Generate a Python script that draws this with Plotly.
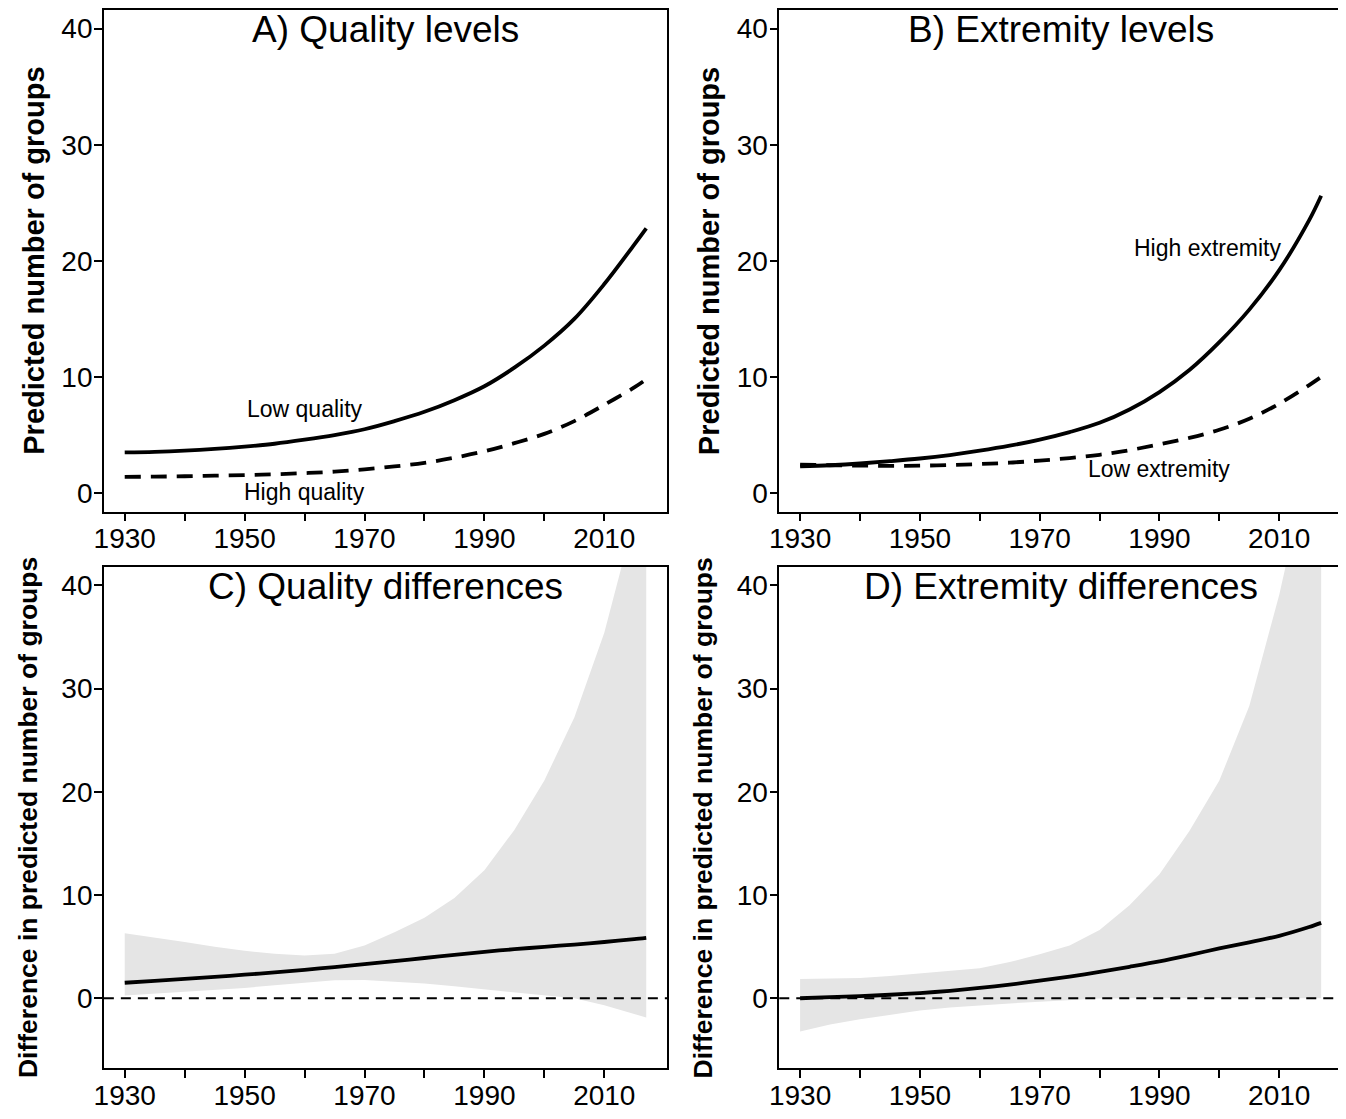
import plotly.graph_objects as go

# ---------------- data ----------------
years = [1930, 1935, 1940, 1945, 1950, 1955, 1960, 1965, 1970, 1975,
         1980, 1985, 1990, 1995, 2000, 2005, 2010, 2015, 2017]

# A) Quality levels
low_quality = [3.5, 3.55, 3.65, 3.8, 4.0, 4.25, 4.6, 5.0, 5.5, 6.2,
               7.0, 8.0, 9.2, 10.8, 12.7, 15.0, 18.0, 21.4, 22.8]
high_quality = [1.4, 1.42, 1.45, 1.5, 1.55, 1.62, 1.72, 1.85, 2.05, 2.3,
                2.6, 3.05, 3.6, 4.3, 5.1, 6.2, 7.6, 9.1, 9.8]

# B) Extremity levels
high_extremity = [2.3, 2.4, 2.55, 2.75, 2.98, 3.28, 3.65, 4.08, 4.6, 5.25,
                  6.05, 7.2, 8.7, 10.6, 13.0, 15.8, 19.2, 23.5, 25.6]
low_extremity = [2.45, 2.4, 2.37, 2.35, 2.36, 2.42, 2.5, 2.62, 2.8, 3.02,
                 3.3, 3.7, 4.2, 4.75, 5.45, 6.4, 7.7, 9.3, 10.0]

# C) Quality differences
qual_diff = [1.5, 1.68, 1.87, 2.07, 2.28, 2.5, 2.75, 3.02, 3.3, 3.6,
             3.9, 4.2, 4.5, 4.75, 4.98, 5.2, 5.45, 5.72, 5.85]
qual_upper = [6.3, 5.9, 5.44, 5.0, 4.6, 4.3, 4.15, 4.3, 5.1, 6.4,
              7.8, 9.7, 12.4, 16.3, 21.1, 27.2, 35.4, 46.5, 52.0]
qual_lower = [0.27, 0.45, 0.6, 0.8, 1.0, 1.25, 1.53, 1.75, 1.77, 1.62,
              1.43, 1.15, 0.85, 0.55, 0.27, 0.0, -0.68, -1.5, -1.87]

# D) Extremity differences
ext_diff = [0.0, 0.1, 0.2, 0.34, 0.5, 0.72, 1.0, 1.32, 1.7, 2.1,
            2.55, 3.05, 3.57, 4.18, 4.83, 5.42, 6.05, 6.9, 7.3]
ext_upper = [1.87, 1.92, 1.97, 2.15, 2.38, 2.6, 2.9, 3.5, 4.25, 5.1,
             6.6, 9.0, 12.0, 16.2, 21.1, 28.3, 39.1, 52.0, 58.0]
ext_lower = [-3.23, -2.55, -2.04, -1.6, -1.19, -0.9, -0.68, -0.5, -0.34, -0.17,
             -0.02, 0.0, 0.0, 0.0, 0.0, 0.0, 0.0, 0.0, 0.0]

x_tick_vals = [1930, 1940, 1950, 1960, 1970, 1980, 1990, 2000, 2010]
x_tick_text = ["1930", "", "1950", "", "1970", "", "1990", "", "2010"]
y_tick_vals = [0, 10, 20, 30, 40]

panel_titles = ["A) Quality levels", "B) Extremity levels",
                "C) Quality differences", "D) Extremity differences"]
y_titles = ["Predicted number of groups", "Predicted number of groups",
            "Difference in predicted number of groups",
            "Difference in predicted number of groups"]

# ---------------- layout geometry (reference pixels) ----------------
W, H = 1336, 1103
OFF = 8  # default body margin of the page


def px(xr):
    return (xr - OFF) / W


def py(yr):
    return 1 - (yr - OFF) / H


FONT = "Liberation Sans, Arial, sans-serif"
BLACK = "#000000"
GREY = "#e5e5e5"
LW = 3.8
DASH = "16px,10px"

x_dom_left = [px(94.5), px(662)]
x_dom_right = [px(775), min(1.0, px(1342))]
y_dom_top = [py(518), min(1.0, py(7.3))]
y_dom_bot = [py(1084), py(574)]

xr = [1926.52, 2020.48]
yr_top = [-1.6, 41.6]
yr_bot = [-6.8, 41.8]

fig = go.Figure()

# Panel A
fig.add_trace(go.Scatter(x=years, y=low_quality, mode="lines", xaxis="x", yaxis="y",
                         line=dict(color=BLACK, width=LW, shape="spline", smoothing=1.0)))
fig.add_trace(go.Scatter(x=years, y=high_quality, mode="lines", xaxis="x", yaxis="y",
                         line=dict(color=BLACK, width=LW, dash=DASH, shape="spline", smoothing=1.0)))
# Panel B
fig.add_trace(go.Scatter(x=years, y=high_extremity, mode="lines", xaxis="x2", yaxis="y2",
                         line=dict(color=BLACK, width=LW, shape="spline", smoothing=1.0)))
fig.add_trace(go.Scatter(x=years, y=low_extremity, mode="lines", xaxis="x2", yaxis="y2",
                         line=dict(color=BLACK, width=LW, dash=DASH, shape="spline", smoothing=1.0)))
# Panel C
fig.add_trace(go.Scatter(x=years, y=qual_lower, mode="lines", xaxis="x3", yaxis="y3",
                         line=dict(width=0, color=GREY), hoverinfo="skip"))
fig.add_trace(go.Scatter(x=years, y=qual_upper, mode="lines", xaxis="x3", yaxis="y3",
                         line=dict(width=0, color=GREY), fill="tonexty", fillcolor=GREY,
                         hoverinfo="skip"))
fig.add_trace(go.Scatter(x=years, y=qual_diff, mode="lines", xaxis="x3", yaxis="y3",
                         line=dict(color=BLACK, width=LW, shape="spline", smoothing=0.8)))
# Panel D
fig.add_trace(go.Scatter(x=years, y=ext_lower, mode="lines", xaxis="x4", yaxis="y4",
                         line=dict(width=0, color=GREY), hoverinfo="skip"))
fig.add_trace(go.Scatter(x=years, y=ext_upper, mode="lines", xaxis="x4", yaxis="y4",
                         line=dict(width=0, color=GREY), fill="tonexty", fillcolor=GREY,
                         hoverinfo="skip"))
fig.add_trace(go.Scatter(x=years, y=ext_diff, mode="lines", xaxis="x4", yaxis="y4",
                         line=dict(color=BLACK, width=LW, shape="spline", smoothing=0.8)))

axis_common = dict(showline=True, mirror=True, linecolor=BLACK, linewidth=1.5,
                   ticks="outside", ticklen=8, tickwidth=1.5, tickcolor=BLACK,
                   showgrid=False, zeroline=False,
                   tickfont=dict(family=FONT, size=28, color=BLACK))

xaxis_common = dict(axis_common, range=xr, tickmode="array",
                    tickvals=x_tick_vals, ticktext=x_tick_text,
                    ticklabelstandoff=-7)
yaxis_common = dict(axis_common, tickmode="array", tickvals=y_tick_vals,
                    ticklabelstandoff=-4)

fig.update_layout(
    width=W, height=H,
    margin=dict(l=0, r=0, t=0, b=0, pad=0),
    paper_bgcolor="white", plot_bgcolor="white",
    showlegend=False,
    xaxis=dict(xaxis_common, domain=x_dom_left, anchor="y"),
    yaxis=dict(yaxis_common, domain=y_dom_top, anchor="x", range=yr_top),
    xaxis2=dict(xaxis_common, domain=x_dom_right, anchor="y2"),
    yaxis2=dict(yaxis_common, domain=y_dom_top, anchor="x2", range=yr_top),
    xaxis3=dict(xaxis_common, domain=x_dom_left, anchor="y3"),
    yaxis3=dict(yaxis_common, domain=y_dom_bot, anchor="x3", range=yr_bot),
    xaxis4=dict(xaxis_common, domain=x_dom_right, anchor="y4"),
    yaxis4=dict(yaxis_common, domain=y_dom_bot, anchor="x4", range=yr_bot),
)

# zero reference lines in difference panels
for xa, ya in [("x3", "y3"), ("x4", "y4")]:
    fig.add_shape(type="line", xref=f"{xa} domain", yref=ya, x0=0, x1=1, y0=0, y1=0,
                  line=dict(color=BLACK, width=2, dash="10px,7px"), layer="above")

# panel titles
title_y_top = py(27.5)
title_y_bot = py(594.5)
title_pos = [((x_dom_left[0] + x_dom_left[1]) / 2, title_y_top),
             ((x_dom_right[0] + x_dom_right[1]) / 2, title_y_top),
             ((x_dom_left[0] + x_dom_left[1]) / 2, title_y_bot),
             ((x_dom_right[0] + x_dom_right[1]) / 2, title_y_bot)]
for t, (x, y) in zip(panel_titles, title_pos):
    fig.add_annotation(text=t, xref="paper", yref="paper", x=x, y=y,
                       xanchor="center", yanchor="middle", showarrow=False,
                       font=dict(family=FONT, size=37, color=BLACK))

# y-axis titles: (text, centre x in reference px, centre y paper, font size)
ytitle_specs = [(y_titles[0], 94.5 - 70.5, (y_dom_top[0] + y_dom_top[1]) / 2, 29),
                (y_titles[1], 775 - 70.5, (y_dom_top[0] + y_dom_top[1]) / 2, 29),
                (y_titles[2], 94.5 - 77.0, (y_dom_bot[0] + y_dom_bot[1]) / 2, 26.5),
                (y_titles[3], 775 - 77.0, (y_dom_bot[0] + y_dom_bot[1]) / 2, 26.5)]
for t, xref_px, y, size in ytitle_specs:
    fig.add_annotation(text=f"<b>{t}</b>", xref="paper", yref="paper", x=px(xref_px), y=y,
                       xanchor="center", yanchor="middle", textangle=-90, showarrow=False,
                       font=dict(family=FONT, size=size, color=BLACK))

# curve labels
curve_labels = [("Low quality", 1960, 7.2, "x", "y"),
                ("High quality", 1960, 0.1, "x", "y"),
                ("High extremity", 1998, 21.1, "x2", "y2"),
                ("Low extremity", 1990, 2.1, "x2", "y2")]
for t, x, y, xa, ya in curve_labels:
    fig.add_annotation(text=t, xref=xa, yref=ya, x=x, y=y, showarrow=False,
                       xanchor="center", yanchor="middle",
                       font=dict(family=FONT, size=23, color=BLACK))

fig.write_html("out.html")
